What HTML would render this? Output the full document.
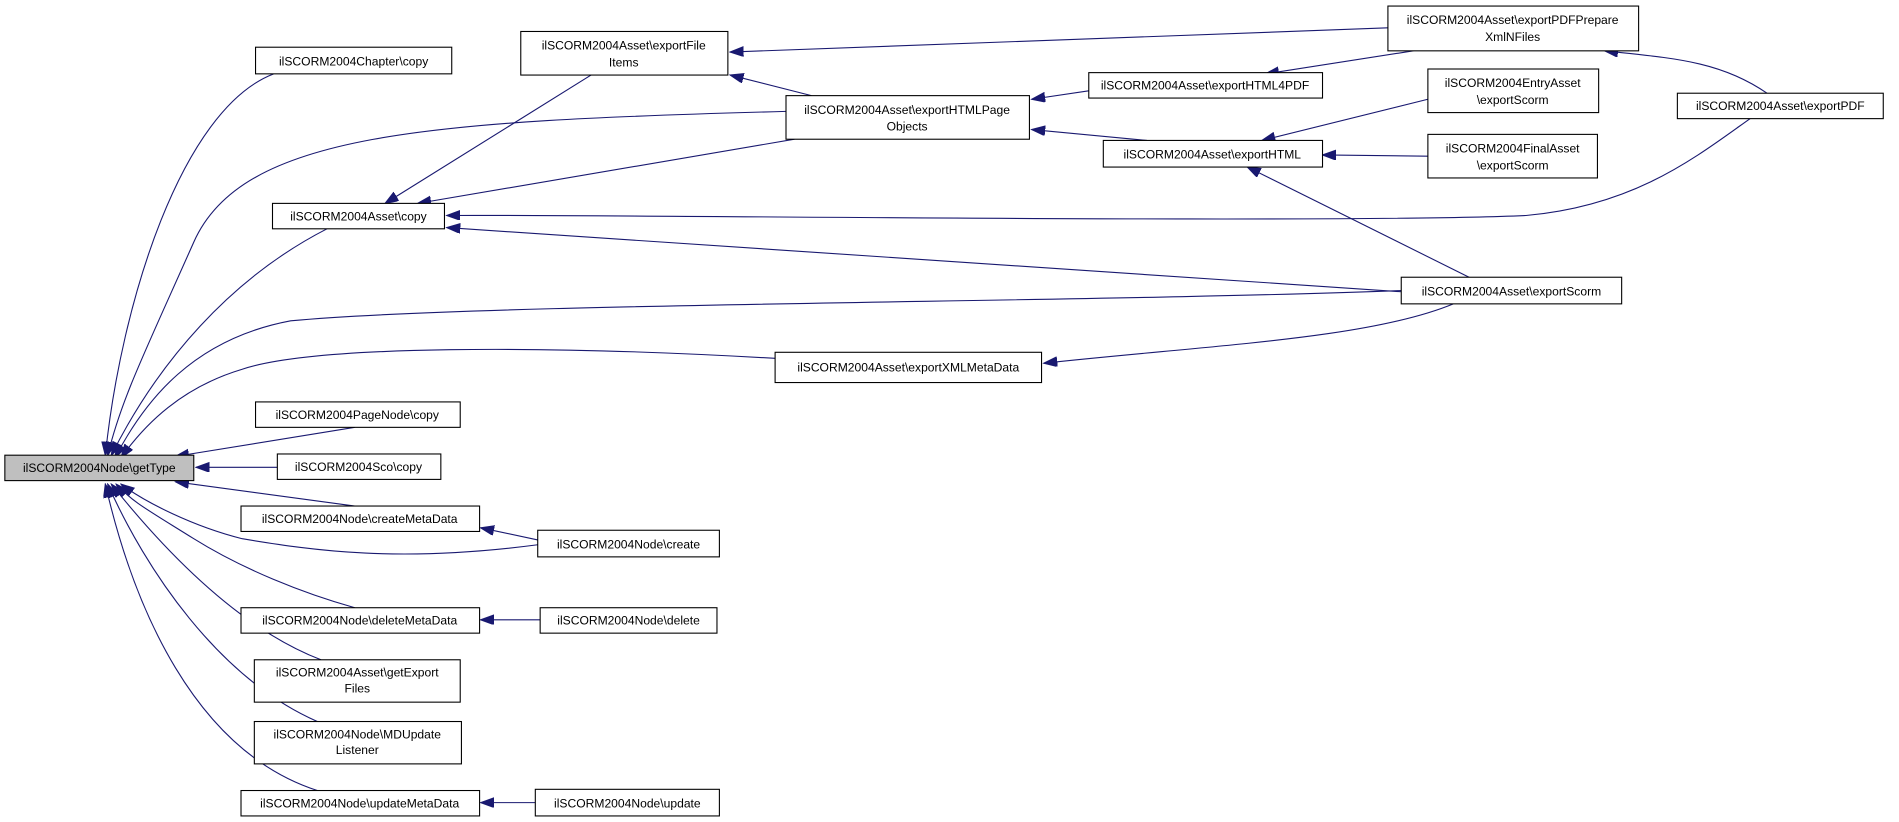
<!DOCTYPE html>
<html><head><meta charset="utf-8"><style>
html,body{margin:0;padding:0;background:#fff;}
svg{display:block;}
text{font-family:"Liberation Sans",sans-serif;font-size:10px;fill:#000;text-anchor:middle;}
.n{fill:#fff;stroke:#000;stroke-width:0.9;}
.e{fill:none;stroke:#191970;stroke-width:0.9;marker-end:url(#a);}
</style></head><body>
<svg width="1899" height="822" viewBox="0 0 1568 679" preserveAspectRatio="none" xmlns="http://www.w3.org/2000/svg">
<defs><marker id="a" markerUnits="userSpaceOnUse" markerWidth="12" markerHeight="10" refX="11" refY="4" orient="auto"><path d="M0,0 L11,4 L0,8 z" fill="#191970" stroke="#191970"/></marker></defs>
<rect width="1568" height="679" fill="#fff"/>
<!-- edges to getType -->
<path class="e" d="M226,61 C150,90 100,250 87,376"/>
<path class="e" d="M270,189 C190,230 130,300 92,376"/>
<path class="e" d="M649,92 C350,100 200,110 160,200 S100,330 89,376"/>
<path class="e" d="M1157,240 C900,250 400,250 240,265 C160,280 120,330 95,378"/>
<path class="e" d="M640,296 C450,285 260,285 200,305 C150,320 120,350 100,378"/>
<path class="e" d="M293,353 L145,377"/>
<path class="e" d="M229,386 L162,386"/>
<path class="e" d="M293,418 L145,398"/>
<path class="e" d="M444,450 C330,465 260,455 200,445 C160,435 120,415 100,400"/>
<path class="e" d="M293,502 C250,490 200,470 160,445 S110,415 96,400"/>
<path class="e" d="M265,545 C200,520 140,460 92,400"/>
<path class="e" d="M262,596 C180,560 120,470 89,400"/>
<path class="e" d="M262,653 C160,620 110,500 87,400"/>
<!-- to Asset copy -->
<path class="e" d="M488,62 L318,168"/>
<path class="e" d="M656,115 L345,168"/>
<path class="e" d="M1445,98 C1400,130 1350,170 1260,178 C1100,185 500,177 369,178"/>
<path class="e" d="M1157,241 L369,188"/>
<!-- others -->
<path class="e" d="M1146,23 L603,43"/>
<path class="e" d="M670,79 L603,62"/>
<path class="e" d="M899,75 L852,82"/>
<path class="e" d="M947,116 L852,107"/>
<path class="e" d="M1167,42 L1045,61"/>
<path class="e" d="M1179,82 L1042,116"/>
<path class="e" d="M1179,129 L1092,128"/>
<path class="e" d="M1213,229 L1030,138"/>
<path class="e" d="M1459,77 C1420,50 1380,48 1325,42"/>
<path class="e" d="M1200,251 C1130,280 1000,285 862,300"/>
<path class="e" d="M444,446 L397,436"/>
<path class="e" d="M446,512 L397,512"/>
<path class="e" d="M442,663 L397,663"/>
<!-- nodes -->
<rect x="4" y="376" width="156" height="21" fill="#bfbfbf" stroke="#000" stroke-width="0.9"/><text x="82" y="390">ilSCORM2004Node\getType</text>
<rect class="n" x="211" y="39" width="162" height="22"/><text x="292" y="54">ilSCORM2004Chapter\copy</text>
<rect class="n" x="225" y="168" width="142" height="21"/><text x="296" y="182">ilSCORM2004Asset\copy</text>
<rect class="n" x="211" y="332" width="169" height="21"/><text x="295" y="346">ilSCORM2004PageNode\copy</text>
<rect class="n" x="229" y="375" width="135" height="21"/><text x="296" y="389">ilSCORM2004Sco\copy</text>
<rect class="n" x="199" y="418" width="197" height="21"/><text x="297" y="432">ilSCORM2004Node\createMetaData</text>
<rect class="n" x="199" y="502" width="197" height="21"/><text x="297" y="516">ilSCORM2004Node\deleteMetaData</text>
<rect class="n" x="210" y="545" width="170" height="35"/><text x="295" y="559">ilSCORM2004Asset\getExport</text><text x="295" y="572">Files</text>
<rect class="n" x="210" y="596" width="171" height="35"/><text x="295" y="610">ilSCORM2004Node\MDUpdate</text><text x="295" y="623">Listener</text>
<rect class="n" x="199" y="653" width="197" height="21"/><text x="297" y="667">ilSCORM2004Node\updateMetaData</text>
<rect class="n" x="430" y="26" width="171" height="36"/><text x="515" y="41">ilSCORM2004Asset\exportFile</text><text x="515" y="55">Items</text>
<rect class="n" x="649" y="79" width="201" height="36"/><text x="749" y="94">ilSCORM2004Asset\exportHTMLPage</text><text x="749" y="108">Objects</text>
<rect class="n" x="640" y="291" width="220" height="25"/><text x="750" y="307">ilSCORM2004Asset\exportXMLMetaData</text>
<rect class="n" x="444" y="438" width="150" height="22"/><text x="519" y="453">ilSCORM2004Node\create</text>
<rect class="n" x="446" y="502" width="146" height="21"/><text x="519" y="516">ilSCORM2004Node\delete</text>
<rect class="n" x="442" y="652" width="152" height="22"/><text x="518" y="667">ilSCORM2004Node\update</text>
<rect class="n" x="899" y="60" width="193" height="21"/><text x="995" y="74">ilSCORM2004Asset\exportHTML4PDF</text>
<rect class="n" x="911" y="116" width="181" height="22"/><text x="1001" y="131">ilSCORM2004Asset\exportHTML</text>
<rect class="n" x="1146" y="5" width="207" height="37"/><text x="1249" y="20">ilSCORM2004Asset\exportPDFPrepare</text><text x="1249" y="34">XmlNFiles</text>
<rect class="n" x="1179" y="57" width="141" height="36"/><text x="1249" y="72">ilSCORM2004EntryAsset</text><text x="1249" y="86">\exportScorm</text>
<rect class="n" x="1179" y="111" width="140" height="36"/><text x="1249" y="126">ilSCORM2004FinalAsset</text><text x="1249" y="140">\exportScorm</text>
<rect class="n" x="1157" y="229" width="182" height="22"/><text x="1248" y="244">ilSCORM2004Asset\exportScorm</text>
<rect class="n" x="1385" y="77" width="170" height="21"/><text x="1470" y="91">ilSCORM2004Asset\exportPDF</text>
</svg>
</body></html>
